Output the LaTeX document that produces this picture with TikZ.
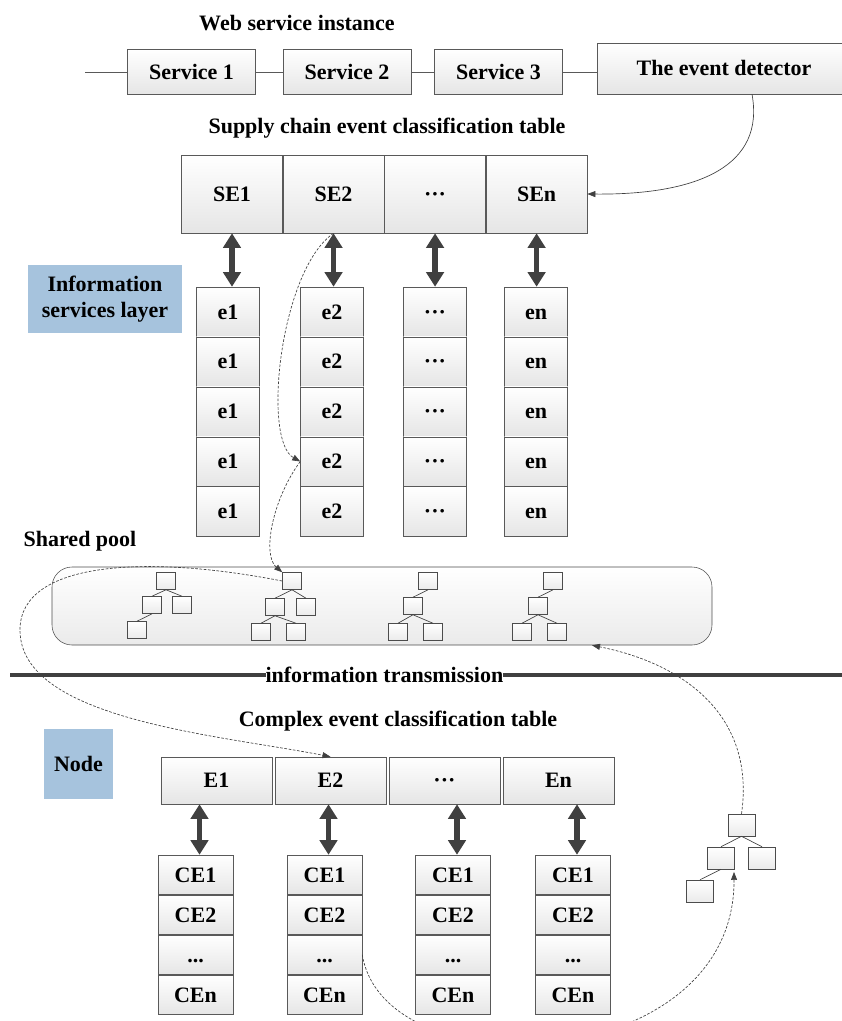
\documentclass[tikz,border=0pt]{standalone}
\usepackage{fontspec}
\setmainfont{Liberation Serif}
\usetikzlibrary{positioning,arrows.meta}
\definecolor{layerblue}{HTML}{A6C3DD}

\begin{document}
\begin{tikzpicture}[x=0.75pt,y=-0.75pt]
  \tikzstyle{cell}=[rectangle, draw=black!65, top color=white, bottom color=black!10, inner sep=0pt, text height=11pt, text depth=0pt, font=\fontsize{16.5}{19}\selectfont\bfseries]
  \tikzstyle{title}=[inner sep=1pt, font=\fontsize{16.5}{19}\selectfont\bfseries]
  \tikzstyle{layer}=[rectangle, fill=layerblue, inner sep=0pt, align=center, font=\fontsize{16.5}{19}\selectfont\bfseries]
  \tikzstyle{tnode}=[rectangle, draw=black!70, top color=white, bottom color=black!8, inner sep=0pt, minimum width=14.25pt, minimum height=12.75pt]
  \tikzstyle{tbig}=[tnode, minimum width=20.25pt, minimum height=16.5pt]
  \tikzstyle{twig}=[draw=black!75, line width=0.5pt]
  \tikzstyle{wire}=[draw=black!65, line width=0.5pt]
  \tikzstyle{dbl}=[{Triangle[length=11pt,width=13pt]}-{Triangle[length=11pt,width=13pt]}, line width=4pt, draw=black!75]
  \tikzstyle{flow}=[-{Triangle[length=6pt,width=4.5pt]}, draw=black!75, line width=0.5pt, dash pattern=on 2pt off 1.2pt]
  \tikzstyle{feed}=[-{Triangle[length=6pt,width=4.5pt]}, draw=black!75, line width=0.5pt]
  \useasboundingbox (0,0) rectangle (842,1021);

  % web service instance
  \node[title] (web) at (297,23) {Web service instance};
  \node[cell, minimum width=96pt, minimum height=33.75pt] (s1) at (191.5,72) {Service 1};
  \node[cell, minimum width=96pt, minimum height=33.75pt] (s2) at (347,72) {Service 2};
  \node[cell, minimum width=96pt, minimum height=33.75pt] (s3) at (498.5,72) {Service 3};
  \node[cell, minimum width=190.5pt, minimum height=38.25pt] (det) at (724,68.5) {The event detector};
  \coordinate (wl) at (85,72);
  \path (wl) edge[wire] (s1)
        (s1) edge[wire] (s2)
        (s2) edge[wire] (s3);
  \draw[wire] (s3.east) -- (s3.east -| det.west);

  % supply chain events
  \node[title] (sctab) at (387,128) {Supply chain event classification table};
  \node[cell, minimum width=75.75pt, minimum height=58.5pt] (SE1) at (232,194) {SE1};
  \node[cell, minimum width=75.75pt, minimum height=58.5pt, right=0pt of SE1] (SE2) {SE2};
  \node[cell, minimum width=75.75pt, minimum height=58.5pt, right=0pt of SE2] (SE3) {···};
  \node[cell, minimum width=75.75pt, minimum height=58.5pt, right=0pt of SE3] (SE4) {SEn};
  \draw[feed] ([xshift=21pt]det.south) .. controls (765,165) and (700,195) .. (SE4.east);

  \node[layer, minimum width=115.5pt, minimum height=51pt] (isl) at (105,299) {Information\\services layer};

  \foreach \col/\x/\lab in {1/228/e1,2/332/e2,3/435/{···},4/536/en} {
    \node[cell, minimum width=47.25pt, minimum height=37.05pt] (e\col1) at (\x,311.7) {\lab};
    \foreach \r [count=\p from 1] in {2,...,5}
      \node[cell, minimum width=47.25pt, minimum height=37.05pt, below=0pt of e\col\p] (e\col\r) {\lab};
    \draw[dbl] (SE\col.south) -- (SE\col.south |- e\col1.north);
  }

  % shared pool
  \node[title] (sp) at (80,541) {Shared pool};
  \node[rectangle, rounded corners=15pt, draw=black!70, top color=white, bottom color=black!8, minimum width=495pt, minimum height=58.5pt] (pool) at (382,606) {};
  \node[tnode] (t1r) at (166,581) {};
  \node[tnode] (t1a) at (152,605) {};
  \node[tnode] (t1b) at (182,605) {};
  \node[tnode] (t1c) at (137,630) {};
  \node[tnode] (t2r) at (292,581) {};
  \node[tnode] (t2a) at (275,607) {};
  \node[tnode] (t2b) at (306,607) {};
  \node[tnode] (t2c) at (261,632) {};
  \node[tnode] (t2d) at (296,632) {};
  \node[tnode] (t3r) at (428,581) {};
  \node[tnode] (t3a) at (413,606) {};
  \node[tnode] (t3c) at (398,632) {};
  \node[tnode] (t3d) at (433,632) {};
  \node[tnode] (t4r) at (553,581) {};
  \node[tnode] (t4a) at (538,606) {};
  \node[tnode] (t4c) at (522,632) {};
  \node[tnode] (t4d) at (557,632) {};
  \path (t1r.south) edge[twig] (t1a.north)
        (t1r.south) edge[twig] (t1b.north)
        (t1a.south) edge[twig] (t1c.north)
        (t2r.south) edge[twig] (t2a.north)
        (t2r.south) edge[twig] (t2b.north)
        (t2a.south) edge[twig] (t2c.north)
        (t2a.south) edge[twig] (t2d.north)
        (t3r.south) edge[twig] (t3a.north)
        (t3a.south) edge[twig] (t3c.north)
        (t3a.south) edge[twig] (t3d.north)
        (t4r.south) edge[twig] (t4a.north)
        (t4a.south) edge[twig] (t4c.north)
        (t4a.south) edge[twig] (t4d.north);

  \draw[flow] (SE2.south) .. controls (280,270) and (262,440) .. (e24.west);
  \draw[flow] (e24.west) .. controls (272,500) and (262,555) .. (t2r.north west);

  % transmission
  \coordinate (tl) at (10,675);
  \coordinate (tr) at (842,675);
  \draw[draw=black!75, line width=2.5pt] (tl) -- node[pos=0.45, fill=white, title, inner sep=0pt] (itx) {information transmission} (tr);

  % complex events
  \node[title] (cetab) at (398,721) {Complex event classification table};
  \node[layer, minimum width=51.75pt, minimum height=52.5pt] (nd) at (78.5,764) {Node};
  \node[cell, minimum width=83.6pt, minimum height=35.25pt] (E1) at (216.5,780.5) {E1};
  \node[cell, minimum width=83.6pt, minimum height=35.25pt, right=1.5pt of E1] (E2) {E2};
  \node[cell, minimum width=83.6pt, minimum height=35.25pt, right=1.5pt of E2] (E3) {···};
  \node[cell, minimum width=83.6pt, minimum height=35.25pt, right=1.5pt of E3] (E4) {En};

  \foreach \col/\x in {1/195.5,2/324.5,3/453,4/573} {
    \node[cell, minimum width=56.25pt, minimum height=29.6pt] (ce\col1) at (\x,874.75) {CE1};
    \node[cell, minimum width=56.25pt, minimum height=29.6pt, below=0pt of ce\col1] (ce\col2) {CE2};
    \node[cell, minimum width=56.25pt, minimum height=29.6pt, below=0pt of ce\col2] (ce\col3) {...};
    \node[cell, minimum width=56.25pt, minimum height=29.6pt, below=0pt of ce\col3] (ce\col4) {CEn};
    \draw[dbl] ([xshift=3pt]ce\col1.north) -- ([xshift=3pt]ce\col1.north |- E\col.south);
  }

  % new tree
  \node[tbig] (rr) at (741.5,825) {};
  \node[tbig] (ra) at (721,858) {};
  \node[tbig] (rb) at (762,858) {};
  \node[tbig] (rc) at (700,891) {};
  \path (rr.south) edge[twig] (ra.north)
        (rr.south) edge[twig] (rb.north)
        (ra.south) edge[twig] (rc.north);

  \draw[flow] (t2r.west) .. controls (150,555) and (20,560) .. (20,630)
              .. controls (20,720) and (220,735) .. (E2.north);
  \draw[flow] (rr.north) .. controls (755,720) and (690,665) .. ([xshift=157.5pt]pool.south);
  \draw[flow] (ce23.east) .. controls (385,1092) and (735,1075) .. ([xshift=9.75pt,yshift=-2pt]ra.south);
\end{tikzpicture}
\end{document}
